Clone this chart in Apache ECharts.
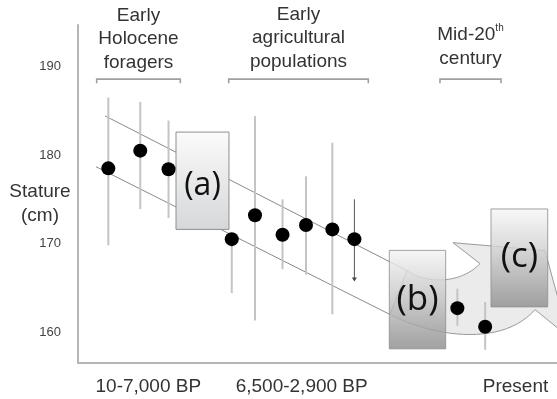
<!DOCTYPE html>
<html>
<head>
<meta charset="utf-8">
<script src="https://cdn.jsdelivr.net/npm/echarts@6/dist/echarts.min.js"></script>
<style>
  html, body { margin: 0; padding: 0; background: #fff; }
  #chart { width: 557px; height: 399px; }
</style>
</head>
<body>
<div id="chart"></div>
<script>
// Sample series: position along the timeline (0 = oldest, 100 = right edge), mean stature and range (cm)
const samplePos   = [6.33, 13.0, 18.9, 32.1, 36.95, 42.7, 47.6, 53.1, 57.7, 79.2, 85.0];
const statureMean = [178.5, 180.5, 178.4, 170.5, 173.2, 171.0, 172.1, 171.6, 170.5, 162.7, 160.6];
const statureLow  = [169.8, 173.9, 172.9, 164.4, 161.3, 167.1, 166.5, 162.0, 165.7, 160.7, 158.0];
const statureHigh = [186.5, 186.0, 183.9, 170.5, 184.4, 175.0, 177.6, 181.4, 175.0, 164.9, 163.4];
// ranges whose lower end is open (drawn as an arrow)
const openLower   = [0, 0, 0, 0, 0, 0, 0, 0, 1, 0, 0];

// Axis ticks
const yTicks = [160, 170, 180, 190];
const periodPos = [14.68, 46.7, 91.34];
const periodLabels = ['10-7,000 BP', '6,500-2,900 BP', 'Present'];

// Population groups shown above the plot, with their timeline spans
const groupNames = ['Early\nHolocene\nforagers', 'Early\nagricultural\npopulations', 'Mid-20{sup|th}\ncentury'];
const groupStart = [3.90, 31.46, 75.57];
const groupEnd   = [21.36, 60.61, 88.31];
const groupLevel = 188.58;

// Phase panels (a), (b), (c): timeline span and stature span
const phaseNames  = ['(a)', '(b)', '(c)'];
const phaseX0     = [20.46, 64.99, 86.22];
const phaseX1     = [31.52, 76.76, 98.06];
const phaseTop    = [182.60, 169.23, 173.91];
const phaseBottom = [171.60, 158.10, 162.84];

// Declining trend band (upper and lower edges)
const bandUpper = [[5.64, 184.43], [68.68, 166.94]];
const bandLower = [[3.76, 178.68], [65.14, 161.98]];

// Rebound arrow outline in data units (M / L / C segments)
const reboundArrow = [
  ['M', 68.68, 166.94],
  ['C', 72.44, 165.47, 79.75, 165.36, 83.92, 167.73],
  ['L', 78.29, 170.10],
  ['L', 97.49, 169.20],
  ['L', 102.42, 159.44],
  ['L', 95.41, 162.54],
  ['C', 89.14, 158.59, 75.57, 159.15, 65.14, 161.98]
];

const FONT = "'Liberation Sans', Arial, sans-serif";
const TEXT = '#333333';

const chart = echarts.init(document.getElementById('chart'), null, { renderer: 'canvas' });

function cubicPoints(p0, c1, c2, p1, n) {
  const pts = [];
  for (let i = 1; i <= n; i++) {
    const t = i / n, u = 1 - t;
    pts.push([
      u*u*u*p0[0] + 3*u*u*t*c1[0] + 3*u*t*t*c2[0] + t*t*t*p1[0],
      u*u*u*p0[1] + 3*u*u*t*c1[1] + 3*u*t*t*c2[1] + t*t*t*p1[1]
    ]);
  }
  return pts;
}

const boxGradients = [
  [{ offset: 0, color: '#fbfbfb' }, { offset: 1, color: '#d6d7d9' }],
  [{ offset: 0, color: '#f4f4f4' }, { offset: 0.45, color: '#c9c9c9' }, { offset: 1, color: '#8c8c8c' }],
  [{ offset: 0, color: '#f7f7f7' }, { offset: 0.45, color: '#cdcdcd' }, { offset: 1, color: '#8e8e8e' }]
];
const boxOpacity = [1, 0.82, 0.82];
const boxLabelShift = [5, 0, -1];

const option = {
  animation: false,
  backgroundColor: '#fff',
  grid: { left: 78, right: 0, top: 25, bottom: 36 },
  xAxis: {
    type: 'value', min: 0, max: 100,
    axisLine: { show: true, onZero: false, lineStyle: { color: '#b5b5b5', width: 2 } },
    axisTick: { show: false },
    splitLine: { show: false },
    axisLabel: {
      customValues: periodPos,
      margin: 14,
      fontSize: 19, fontFamily: FONT, color: TEXT,
      formatter: function (v) {
        let best = 0;
        periodPos.forEach((p, i) => { if (Math.abs(p - v) < Math.abs(periodPos[best] - v)) best = i; });
        return periodLabels[best];
      }
    }
  },
  yAxis: {
    type: 'value', min: 156.5, max: 194.7,
    axisLine: { show: true, onZero: false, lineStyle: { color: '#b5b5b5', width: 2 } },
    axisTick: { show: false },
    splitLine: { show: false },
    axisLabel: {
      customValues: yTicks,
      margin: 17,
      fontSize: 13, fontFamily: FONT, color: '#444'
    }
  },
  graphic: [{
    type: 'text', x: 40, y: 204,
    style: {
      text: 'Stature\n(cm)', align: 'center', verticalAlign: 'middle',
      fontSize: 19, fontFamily: FONT, lineHeight: 24, fill: TEXT
    }
  }],
  series: [
    {
      // trend band edges
      type: 'custom', name: 'band', z: 1, silent: true,
      data: [bandUpper[0].concat(bandUpper[1]), bandLower[0].concat(bandLower[1])],
      encode: { x: [0, 2], y: [1, 3] },
      renderItem: function (params, api) {
        const a = api.coord([api.value(0), api.value(1)]);
        const b = api.coord([api.value(2), api.value(3)]);
        return { type: 'line', shape: { x1: a[0], y1: a[1], x2: b[0], y2: b[1] },
                 style: { stroke: '#8a8a8a', lineWidth: 1 } };
      }
    },
    {
      // rebound arrow
      type: 'custom', name: 'rebound', z: 2, silent: true,
      data: [[0]],
      renderItem: function (params, api) {
        let pts = [];
        let cur = null;
        reboundArrow.forEach(seg => {
          if (seg[0] === 'M' || seg[0] === 'L') {
            cur = api.coord([seg[1], seg[2]]);
            pts.push(cur);
          } else {
            const c1 = api.coord([seg[1], seg[2]]);
            const c2 = api.coord([seg[3], seg[4]]);
            const end = api.coord([seg[5], seg[6]]);
            pts = pts.concat(cubicPoints(cur, c1, c2, end, 24));
            cur = end;
          }
        });
        return { type: 'polygon', shape: { points: pts },
                 style: { fill: '#ebebeb', stroke: '#9a9a9a', lineWidth: 1 } };
      }
    },
    {
      // phase panels
      type: 'custom', name: 'phases', z: 3, silent: true,
      data: phaseNames.map((n, i) => [phaseX0[i], phaseTop[i], phaseX1[i], phaseBottom[i], i]),
      encode: { x: [0, 2], y: [1, 3] },
      renderItem: function (params, api) {
        const i = api.value(4);
        const tl = api.coord([api.value(0), api.value(1)]);
        const br = api.coord([api.value(2), api.value(3)]);
        const w = br[0] - tl[0], h = br[1] - tl[1];
        return {
          type: 'group',
          children: [
            { type: 'rect', shape: { x: tl[0], y: tl[1], width: w, height: h },
              style: { fill: new echarts.graphic.LinearGradient(0, 0, 0, 1, boxGradients[i]),
                       stroke: '#8f8f8f', lineWidth: 1, opacity: boxOpacity[i] } },
            { type: 'text', x: tl[0] + w / 2, y: tl[1] + h / 2 + boxLabelShift[i],
              style: { text: phaseNames[i], align: 'center', verticalAlign: 'middle',
                       fontSize: i === 0 ? 32 : 35, fontFamily: "'Open Sans', sans-serif", fill: '#111' } }
          ]
        };
      }
    },
    {
      // group brackets and captions
      type: 'custom', name: 'groups', z: 3, silent: true,
      data: groupNames.map((n, i) => [groupStart[i], groupLevel, groupEnd[i], i]),
      encode: { x: [0, 2], y: 1 },
      renderItem: function (params, api) {
        const i = api.value(3);
        const a = api.coord([api.value(0), api.value(1)]);
        const b = api.coord([api.value(2), api.value(1)]);
        const gap = [5, 6, 9][i];
        return {
          type: 'group',
          children: [
            { type: 'polyline', shape: { points: [[a[0], a[1] + 4], a, b, [b[0], b[1] + 4]] },
              style: { stroke: '#a0a0a0', lineWidth: 1.6, fill: null } },
            { type: 'text', x: (a[0] + b[0]) / 2, y: a[1] - gap,
              style: { text: groupNames[i], align: 'center', verticalAlign: 'bottom',
                       fontSize: 19, fontFamily: FONT, lineHeight: 23.5, fill: TEXT,
                       rich: { sup: { fontSize: 10, fontFamily: FONT, fill: TEXT, verticalAlign: 'top', lineHeight: 23.5 } } } }
          ]
        };
      }
    },
    {
      // stature ranges
      type: 'custom', name: 'range', z: 4, silent: true,
      data: samplePos.map((x, i) => [x, statureLow[i], statureHigh[i], openLower[i]]),
      encode: { x: 0, y: [1, 2] },
      renderItem: function (params, api) {
        const lo = api.coord([api.value(0), api.value(1)]);
        const hi = api.coord([api.value(0), api.value(2)]);
        if (api.value(3)) {
          return {
            type: 'group',
            children: [
              { type: 'line', shape: { x1: hi[0], y1: hi[1], x2: lo[0], y2: lo[1] - 3 },
                style: { stroke: '#555', lineWidth: 1 } },
              { type: 'polygon', shape: { points: [[lo[0] - 2.5, lo[1] - 4], [lo[0] + 2.5, lo[1] - 4], [lo[0], lo[1]]] },
                style: { fill: '#444' } }
            ]
          };
        }
        return { type: 'line', shape: { x1: hi[0], y1: hi[1], x2: lo[0], y2: lo[1] },
                 style: { stroke: '#c4c4c4', lineWidth: 2 } };
      }
    },
    {
      type: 'scatter', name: 'mean stature', z: 5,
      symbol: 'circle', symbolSize: 14,
      itemStyle: { color: '#000', opacity: 1 },
      data: samplePos.map((x, i) => [x, statureMean[i]])
    }
  ]
};

chart.setOption(option);
</script>
</body>
</html>
